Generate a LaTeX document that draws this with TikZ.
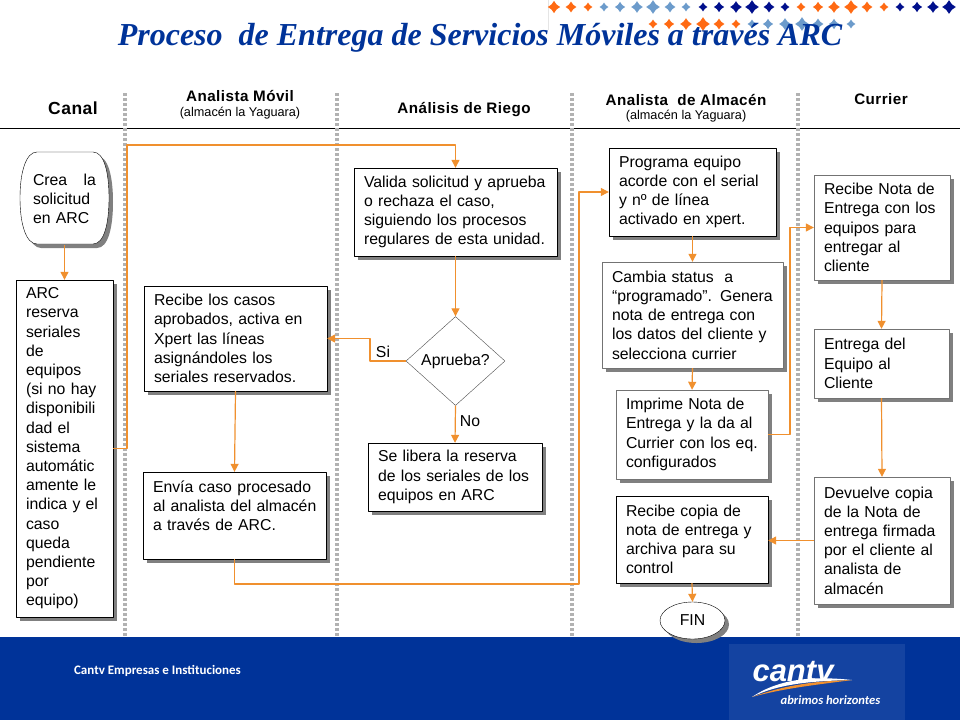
\documentclass[tikz,border=0pt]{standalone}
\usepackage{fontspec}
\setmainfont{Liberation Sans}
\newfontfamily\titlefont{Liberation Serif}
\newfontfamily\footfont{Carlito}
\newfontfamily\cabezafont[LetterSpace=3]{Liberation Sans}
\usetikzlibrary{arrows.meta,shadows,shapes.geometric}
\definecolor{azul}{HTML}{003399}
\definecolor{azulclaro}{HTML}{6C9BCB}
\definecolor{marino}{HTML}{000F8C}
\definecolor{naranja}{HTML}{FF6A13}
\definecolor{enlace}{HTML}{F0902E}
\tikzset{
  sombra/.style={drop shadow={shadow xshift=4pt,shadow yshift=-4pt,fill=black!50,opacity=1}},
  caja/.style={draw=black,fill=white,sombra,inner xsep=10pt,inner ysep=0pt,align=left,
    font=\fontsize{15.8}{19.2}\selectfont},
  cajagris/.style={caja,draw=black!55},
  enlacea/.style={draw=enlace,line width=1.2pt,->},
  etiqueta/.style={font=\fontsize{15.8}{18}\selectfont},
  cabeza/.style={font=\cabezafont\fontsize{15.2}{17}\bfseries\selectfont},
  subcabeza/.style={font=\fontsize{12.7}{14}\selectfont}
}
\newcommand{\gema}[4]{\fill[#4] (#1-.68*#3,#2) -- (#1-.28*#3,#2-.28*#3) -- (#1,#2-.68*#3) -- (#1+.28*#3,#2-.28*#3)
  -- (#1+.68*#3,#2) -- (#1+.28*#3,#2+.28*#3) -- (#1,#2+.68*#3) -- (#1-.28*#3,#2+.28*#3) -- cycle;}
\begin{document}
\begin{tikzpicture}[x=1pt,y=-1pt,>={Stealth[length=8pt,width=8pt,inset=0pt]},line join=round]
\useasboundingbox (0,0) rectangle (960,720);
% adorno superior
\draw[black!10] (548,0)--(548,30);
\foreach \x/\s in {554/9,571/8,588/6.5,801/6.5,818/7.5,834/8.5,851/10,867/8,884/6.5}
  \gema{\x}{7}{\s}{naranja};
\foreach \x/\s in {604/6.5,620/7.5,637/8.5,653/10,670/8,686/6.5}
  \gema{\x}{7}{\s}{azulclaro};
\foreach \x/\s in {703/6.5,719/7.5,736/8.5,752/10,769/8,785/6.5,900/6.5,917/7.5,933/8.5,949/10}
  \gema{\x}{7}{\s}{marino};
\foreach \x/\s in {653/6.5,669/7.5,686/8.5,703/10,719/8,736/6.5}
  \gema{\x}{24}{\s}{naranja};
\foreach \x/\s in {752/6.5,768/7.5,785/8.5,802/10,818/8,834/7.5,851/6.5}
  \gema{\x}{24}{\s}{azulclaro};
\node[text=azul,font=\titlefont\fontsize{32}{36}\bfseries\itshape\selectfont] (titulo) at (480,38)
  {Proceso\ \ de Entrega de Servicios Móviles a través ARC};
% columnas
\draw[black] (0,128)--(960,128);
\foreach \x/\y in {125/637,337/637,572/637,798/641}
  \draw[black!30,line width=3.5pt,dash pattern=on 3pt off 2pt] (\x,93)--(\x,\y);
\node[cabeza,font=\cabezafont\fontsize{17.5}{20}\bfseries\selectfont] (canal) at (73,108) {Canal};
\node[cabeza] (movil) at (240,96) {Analista Móvil};
\node[subcabeza] (movilb) at (240,113) {(almacén la Yaguara)};
\node[cabeza] (riego) at (464,110) {Análisis de Riego};
\node[cabeza] (almacen) at (686,100) {Analista\ \ de Almacén};
\node[subcabeza] (almacenb) at (686,116) {(almacén la Yaguara)};
\node[cabeza] (currier) at (881,99) {Currier};
% pie
\fill[azul] (0,637) rectangle (960,720);
\fill[azul!92!white] (729,644) rectangle (905,720);
\node[text=white,font=\footfont\fontsize{13}{15}\bfseries\selectfont] (pie) at (157.5,671)
  {Cantv Empresas e Instituciones};
\node[text=white,font=\fontsize{31}{34}\bfseries\itshape\selectfont,inner sep=0pt] (cantv) at (793,672) {cantv};
\fill[white] (752,697) .. controls (780,678) and (815,676) .. (852,680) .. controls (815,681) and (780,683) .. (752,697);
\fill[enlace] (752,697) .. controls (785,685) and (815,681) .. (852,680) .. controls (815,685) and (785,688) .. (752,697);
\node[text=white,font=\footfont\fontsize{12.6}{15}\bfseries\itshape\selectfont,inner sep=0pt] (lema) at (830.5,700) {abrimos horizontes};
% cajas
\draw[draw=black,fill=white,sombra] (37,152)--(93,152) .. controls (104,152) and (109,172) .. (109,198)
  .. controls (109,224) and (104,244) .. (93,244)--(37,244) .. controls (26,244) and (20,224) .. (20,198)
  .. controls (20,172) and (26,152) .. (37,152)--cycle;
\node[align=left,inner xsep=13pt,inner ysep=0pt,text width=63pt,minimum height=92pt,font=\fontsize{15.8}{19.2}\selectfont] (crea) at (64.5,199)
  {Crea\hfill la\\ solicitud\\ en ARC};
\node[caja,text width=77pt,minimum height=337pt] (reserva) at (64.5,448.5)
  {ARC\\ reserva\\ seriales\\ de\\ equipos\\ (si no hay\\ disponibili\\ dad el\\ sistema\\ automátic\\ amente le\\ indica y el\\ caso\\ queda\\ pendiente\\ por\\ equipo)};
\node[caja,text width=163pt,minimum height=105pt] (casos) at (235.5,338.5)
  {Recibe los casos\\ aprobados, activa en\\ Xpert las líneas\\ asignándoles los\\ seriales reservados.};
\node[caja,text width=163pt,minimum height=87pt] (envia) at (234.5,515.5)
  {Envía caso procesado\\ \leavevmode\rlap{al analista del almacén}\\ a través de ARC.\\ \mbox{}};
\node[caja,text width=183pt,minimum height=88pt] (valida) at (455.5,212)
  {Valida solicitud y aprueba\\ o rechaza el caso,\\ siguiendo los procesos\\ regulares de esta unidad.};
\node[draw=black!70,fill=white,diamond,aspect=1.1,minimum width=99pt,minimum height=89pt,inner sep=0pt,etiqueta] (aprueba) at (455.5,361) {Aprueba?};
\node[caja,text width=154pt,minimum height=68pt] (libera) at (455,477)
  {Se libera la reserva\\ de los seriales de los\\ equipos en ARC};
\node[caja,text width=147pt,minimum height=88pt] (programa) at (692.5,192)
  {Programa equipo\\ acorde con el serial\\ y nº de línea\\ activado en xpert.};
\node[cajagris,text width=161pt,minimum height=106pt] (cambia) at (692.5,315)
  {Cambia status\ \ a\\ \leavevmode\rlap{“programado”. Genera}\\ nota de entrega con\\ los datos del cliente y\\ selecciona currier};
\node[cajagris,text width=132pt,minimum height=89pt] (imprime) at (692,434.5)
  {Imprime Nota de\\ Entrega y la da al\\ Currier con los eq.\\ configurados};
\node[caja,text width=132pt,minimum height=87pt] (copia) at (692,539.5)
  {Recibe copia de\\ nota de entrega y\\ archiva para su\\ control};
\node[draw=black,fill=white,ellipse,sombra,minimum width=65pt,minimum height=37pt,inner sep=0pt,etiqueta] (fin) at (692.5,620.5) {FIN};
\node[cajagris,text width=116pt,minimum height=105pt] (nota) at (882,227.5)
  {Recibe Nota de\\ Entrega con los\\ equipos para\\ entregar al\\ cliente};
\node[cajagris,text width=115pt,minimum height=69pt] (entrega) at (881.5,363.5)
  {Entrega del\\ Equipo al\\ Cliente};
\node[cajagris,text width=116pt,minimum height=127pt] (devuelve) at (882,540.5)
  {Devuelve copia\\ de la Nota de\\ entrega firmada\\ por el cliente al\\ analista de\\ almacén};
% codos de las lineas
\coordinate (codoa) at (127,145);
\coordinate (codob) at (579,584);
\coordinate (codoc) at (370,361);
\coordinate (codod) at (790,330);
% enlaces
\draw[enlacea] (crea.south)--(reserva.north);
\draw[enlacea] (reserva.east)-|(codoa)-|(valida.north);
\draw[enlacea] (casos.south)--(envia.north);
\draw[enlacea] (envia.south)|-(codob)|-(programa.west);
\draw[enlacea] (valida.south)--(aprueba.north);
\draw[enlacea] (aprueba.west)--(codoc)|-(casos.east);
\draw[enlacea] (aprueba.south)--(libera.north);
\draw[enlacea] (programa.south)--(cambia.north);
\draw[enlacea] (cambia.south)--(imprime.north);
\draw[enlacea] (imprime.east)-|(codod)|-(nota.west);
\draw[enlacea] (nota.south)--(entrega.north);
\draw[enlacea] (entrega.south)--(devuelve.north);
\draw[enlacea] (devuelve.west)--(devuelve.west-|copia.east);
\draw[enlacea] (copia.south)--(fin.north);
\node[etiqueta] (si) at (383,352) {Si};
\node[etiqueta] (no) at (470,421) {No};
\end{tikzpicture}
\end{document}
